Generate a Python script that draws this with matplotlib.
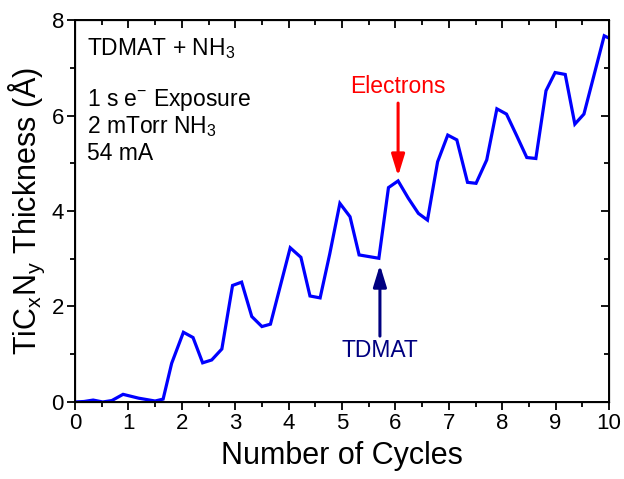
import matplotlib

matplotlib.use("Agg")
import matplotlib.pyplot as plt
from matplotlib.ticker import MultipleLocator

plt.rcParams["font.family"] = ["Liberation Sans", "DejaVu Sans"]
plt.rcParams["mathtext.fontset"] = "custom"
plt.rcParams["mathtext.rm"] = "Liberation Sans"
plt.rcParams["mathtext.it"] = "Liberation Sans"
plt.rcParams["mathtext.default"] = "regular"

# thickness vs cycle
cycles = [0.0, 0.17, 0.34, 0.52, 0.69, 0.9, 1.19, 1.5, 1.65, 1.81, 2.03, 2.21,
          2.39, 2.56, 2.75, 2.95, 3.12, 3.31, 3.5, 3.66, 3.84, 4.03, 4.23, 4.4,
          4.59, 4.77, 4.96, 5.15, 5.32, 5.69, 5.87, 6.05, 6.24, 6.43, 6.6,
          6.79, 6.98, 7.15, 7.35, 7.51, 7.71, 7.9, 8.08, 8.27, 8.46, 8.63,
          8.82, 8.99, 9.18, 9.36, 9.53, 9.72, 9.91, 10.0]
thickness = [0.0, 0.01, 0.04, 0.0, 0.03, 0.16, 0.08, 0.02, 0.06, 0.81, 1.46, 1.35,
             0.82, 0.88, 1.11, 2.44, 2.51, 1.79, 1.58, 1.63, 2.41, 3.23, 3.03, 2.22,
             2.18, 3.1, 4.16, 3.88, 3.08, 3.01, 4.49, 4.63, 4.27, 3.95, 3.81,
             5.03, 5.59, 5.49, 4.6, 4.58, 5.07, 6.14, 6.03, 5.58, 5.12, 5.1,
             6.52, 6.9, 6.86, 5.82, 6.03, 6.85, 7.67, 7.62]

info_lines = ["TDMAT + NH$_3$", "1 s e$^{-}$ Exposure", "2 mTorr NH$_3$", "54 mA"]
info_y = [7.27, 6.2, 5.64, 5.07]

fig = plt.figure(figsize=(6.24, 4.79), dpi=100)
ax = fig.add_axes([0.1202, 0.1608, 0.8558, 0.7974])

ax.plot(cycles, thickness, color="#0000ff", lw=2.3, solid_joinstyle="miter")

ax.set_xlim(0, 10)
ax.set_ylim(0, 8)
ax.xaxis.set_major_locator(MultipleLocator(1))
ax.xaxis.set_minor_locator(MultipleLocator(0.5))
ax.yaxis.set_major_locator(MultipleLocator(2))
ax.yaxis.set_minor_locator(MultipleLocator(1))
ax.tick_params(which="both", direction="out", width=1.3, labelsize=16, pad=2)
ax.tick_params(which="major", length=6)
ax.tick_params(which="minor", length=3.5)
for sp in ax.spines.values():
    sp.set_linewidth(1.4)

# mirror ticks pointing inward on top / right
top = ax.twiny()
right = ax.twinx()
top.set_xlim(0, 10)
right.set_ylim(0, 8)
top.xaxis.set_major_locator(MultipleLocator(1))
top.xaxis.set_minor_locator(MultipleLocator(0.5))
right.yaxis.set_major_locator(MultipleLocator(2))
right.yaxis.set_minor_locator(MultipleLocator(1))
for a in (top, right):
    a.tick_params(which="both", direction="in", width=1.3, labeltop=False,
                  labelright=False, labelbottom=False, labelleft=False)
    a.tick_params(which="major", length=6)
    a.tick_params(which="minor", length=3.5)

ax.set_xlabel("Number of Cycles", fontsize=22, labelpad=5)
ax.set_ylabel("TiC$_x$N$_y$ Thickness (Å)", fontsize=22, labelpad=3)

for txt, y in zip(info_lines, info_y):
    ax.text(0.22, y, txt, fontsize=16.5, ha="left", va="baseline")

ax.annotate("", xy=(6.05, 4.73), xytext=(6.05, 6.26),
            arrowprops=dict(arrowstyle="-|>,head_width=0.4,head_length=1.3",
                            color="#ff0000", lw=2.2, shrinkA=0, shrinkB=0))
ax.text(6.05, 6.6, "Electrons", color="#ff0000", fontsize=16.5,
        ha="center", va="center")

ax.annotate("", xy=(5.71, 2.87), xytext=(5.71, 1.38),
            arrowprops=dict(arrowstyle="-|>,head_width=0.4,head_length=1.3",
                            color="#000080", lw=2.2, shrinkA=0, shrinkB=0))
ax.text(5.71, 1.07, "TDMAT", color="#000080", fontsize=16.5,
        ha="center", va="center")

fig.savefig("out.png", dpi=100)
